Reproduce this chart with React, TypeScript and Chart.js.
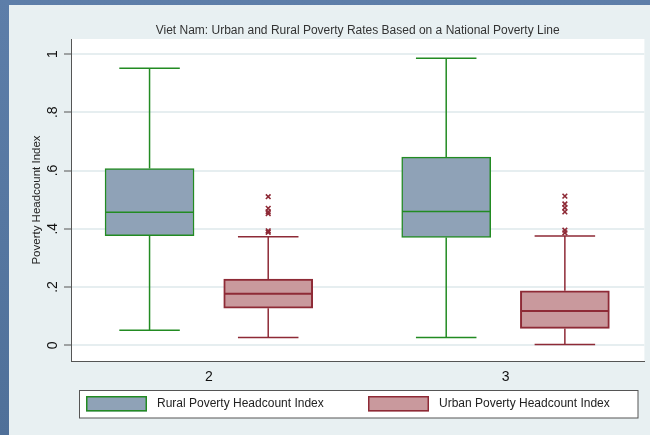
import React, { useEffect, useRef } from "react";
import { Chart, registerables } from "chart.js";

Chart.register(...registerables);

// ---------- data ----------
const chartTitle = "Viet Nam: Urban and Rural Poverty Rates Based on a National Poverty Line";
const yAxisTitle = "Poverty Headcount Index";
const groupLabels = ["2", "3"];
const groupPositions = [2, 3];
const seriesNames = ["Rural Poverty Headcount Index", "Urban Poverty Headcount Index"];

const ruralMin = [0.052, 0.027];
const ruralQ1 = [0.376, 0.37];
const ruralMedian = [0.457, 0.459];
const ruralQ3 = [0.607, 0.646];
const ruralMax = [0.951, 0.985];

const urbanMin = [0.027, 0.003];
const urbanQ1 = [0.127, 0.058];
const urbanMedian = [0.177, 0.118];
const urbanQ3 = [0.227, 0.187];
const urbanMax = [0.373, 0.375];

const urbanOutliersGroup2 = [0.388, 0.393, 0.452, 0.458, 0.47, 0.51];
const urbanOutliersGroup3 = [0.386, 0.395, 0.458, 0.472, 0.485, 0.512];

const yTickValues = [0, 0.2, 0.4, 0.6, 0.8, 1];
const yTickLabels = ["0", ".2", ".4", ".6", ".8", "1"];

// ---------- style ----------
const FONT = "'Liberation Sans', Arial, sans-serif";
const RURAL_FILL = "#8fa2b7";
const RURAL_LINE = "#228b22";
const URBAN_FILL = "#c9999d";
const URBAN_LINE = "#8e2a36";
const PANEL = "#e8f0f2";
const SERIES_OFFSET = 0.2;
const BOX_PX = 89;
const CAP_HALF = 0.102;
const MED_HALF = 0.149;

type Pt = { x: number; y: number | null };

function whiskerPoints(off: number, mins: number[], q1s: number[], q3s: number[], maxs: number[]): Pt[] {
  const pts: Pt[] = [];
  groupPositions.forEach((g, i) => {
    const x = g + off;
    pts.push(
      { x, y: q3s[i] }, { x, y: maxs[i] }, { x, y: null },
      { x: x - CAP_HALF, y: maxs[i] }, { x: x + CAP_HALF, y: maxs[i] }, { x, y: null },
      { x, y: q1s[i] }, { x, y: mins[i] }, { x, y: null },
      { x: x - CAP_HALF, y: mins[i] }, { x: x + CAP_HALF, y: mins[i] }, { x, y: null }
    );
  });
  return pts;
}

function medianPoints(off: number, meds: number[]): Pt[] {
  const pts: Pt[] = [];
  groupPositions.forEach((g, i) => {
    const x = g + off;
    pts.push({ x: x - MED_HALF, y: meds[i] }, { x: x + MED_HALF, y: meds[i] }, { x, y: null });
  });
  return pts;
}

const decorPlugin = {
  id: "statadecor",
  beforeDraw(chart: any) {
    const { ctx, chartArea } = chart;
    ctx.save();
    ctx.fillStyle = "#ffffff";
    ctx.fillRect(chartArea.left, chartArea.top, chartArea.right - chartArea.left, chartArea.bottom - chartArea.top);
    ctx.restore();
  },
  afterDraw(chart: any) {
    const { ctx } = chart;
    ctx.save();
    // legend frame
    const lx = 79.5, ly = 390.5, lw = 558.5, lh = 27.5;
    ctx.fillStyle = "#ffffff";
    ctx.fillRect(lx, ly, lw, lh);
    ctx.strokeStyle = "#555555";
    ctx.lineWidth = 1;
    ctx.strokeRect(lx, ly, lw, lh);
    const entries = chart.data.datasets.filter((d: any) => d.type === "bar");
    const itemX = [86, 368];
    entries.forEach((d: any, i: number) => {
      const sx = itemX[i];
      ctx.fillStyle = d.backgroundColor;
      ctx.fillRect(sx, 396, 61, 15.5);
      ctx.strokeStyle = d.borderColor;
      ctx.lineWidth = 1.5;
      ctx.strokeRect(sx + 0.75, 396.75, 59.5, 14);
      ctx.fillStyle = "#222222";
      ctx.font = `12px ${FONT}`;
      ctx.textAlign = "left";
      ctx.textBaseline = "middle";
      ctx.fillText(d.label, sx + 71, 404);
    });
    ctx.restore();
  },
};

export default function App() {
  const canvasRef = useRef<HTMLCanvasElement | null>(null);

  useEffect(() => {
    if (!canvasRef.current) return;
    const chart = new Chart(canvasRef.current, {
      type: "bar",
      data: {
        datasets: [
          {
            type: "bar",
            label: seriesNames[0],
            data: groupPositions.map((g, i) => ({ x: g - SERIES_OFFSET, y: [ruralQ1[i], ruralQ3[i]] })) as any,
            backgroundColor: RURAL_FILL,
            borderColor: RURAL_LINE,
            borderWidth: 1.5,
            borderSkipped: false,
            barThickness: BOX_PX,
            grouped: false,
            order: 3,
          } as any,
          {
            type: "bar",
            label: seriesNames[1],
            data: groupPositions.map((g, i) => ({ x: g + SERIES_OFFSET, y: [urbanQ1[i], urbanQ3[i]] })) as any,
            backgroundColor: URBAN_FILL,
            borderColor: URBAN_LINE,
            borderWidth: 2,
            borderSkipped: false,
            barThickness: BOX_PX,
            grouped: false,
            order: 3,
          } as any,
          {
            type: "line",
            label: "rural whiskers",
            data: whiskerPoints(-SERIES_OFFSET, ruralMin, ruralQ1, ruralQ3, ruralMax) as any,
            borderColor: RURAL_LINE,
            borderWidth: 1.5,
            pointRadius: 0,
            spanGaps: false,
            fill: false,
            order: 2,
          },
          {
            type: "line",
            label: "urban whiskers",
            data: whiskerPoints(SERIES_OFFSET, urbanMin, urbanQ1, urbanQ3, urbanMax) as any,
            borderColor: URBAN_LINE,
            borderWidth: 1.5,
            pointRadius: 0,
            spanGaps: false,
            fill: false,
            order: 2,
          },
          {
            type: "line",
            label: "rural median",
            data: medianPoints(-SERIES_OFFSET, ruralMedian) as any,
            borderColor: RURAL_LINE,
            borderWidth: 1.5,
            pointRadius: 0,
            spanGaps: false,
            fill: false,
            order: 1,
          },
          {
            type: "line",
            label: "urban median",
            data: medianPoints(SERIES_OFFSET, urbanMedian) as any,
            borderColor: URBAN_LINE,
            borderWidth: 2,
            pointRadius: 0,
            spanGaps: false,
            fill: false,
            order: 1,
          },
          {
            type: "scatter",
            label: "urban outliers",
            data: [
              ...urbanOutliersGroup2.map((v) => ({ x: groupPositions[0] + SERIES_OFFSET, y: v })),
              ...urbanOutliersGroup3.map((v) => ({ x: groupPositions[1] + SERIES_OFFSET, y: v })),
            ],
            pointStyle: "crossRot",
            pointRadius: 3.3,
            borderColor: URBAN_LINE,
            backgroundColor: URBAN_LINE,
            borderWidth: 1.6,
            order: 0,
          },
        ],
      },
      options: {
        responsive: false,
        animation: false,
        devicePixelRatio: 1,
        layout: { padding: { left: 30, right: 3, top: 0, bottom: 44 } },
        plugins: {
          legend: { display: false },
          tooltip: { enabled: false },
          title: {
            display: true,
            text: chartTitle,
            fullSize: false,
            color: "#333333",
            font: { family: FONT, size: 12, weight: "normal" },
            padding: { top: 23, bottom: 1.6 },
          },
        },
        scales: {
          x: {
            type: "linear",
            min: 1.5352,
            max: 3.4681,
            offset: false,
            grid: { display: false, offset: false },
            border: { display: true, color: "#555555", width: 1 },
            afterBuildTicks: (scale: any) => {
              scale.ticks = groupPositions.map((v) => ({ value: v }));
            },
            afterFit: (scale: any) => {
              scale.height = 30;
            },
            ticks: {
              padding: 0,
              color: "#111111",
              font: { family: FONT, size: 14 },
              maxRotation: 0,
              minRotation: 0,
              callback: (v: any) => {
                const i = groupPositions.indexOf(Number(v));
                return i >= 0 ? groupLabels[i] : "";
              },
            },
          },
          y: {
            type: "linear",
            min: -0.054,
            max: 1.0515,
            grid: {
              color: "#e6eef0",
              lineWidth: 2,
              tickColor: "#555555",
              tickWidth: 1,
              tickLength: 7,
              drawTicks: true,
            },
            border: { display: true, color: "#555555", width: 1 },
            afterBuildTicks: (scale: any) => {
              scale.ticks = yTickValues.map((v) => ({ value: v }));
            },
            afterFit: (scale: any) => {
              scale.width = 41;
            },
            title: {
              display: true,
              text: yAxisTitle,
              color: "#222222",
              font: { family: FONT, size: 11.5 },
              padding: { top: 0, bottom: 0 },
            },
            ticks: {
              padding: 5,
              crossAlign: "center",
              minRotation: 90,
              maxRotation: 90,
              color: "#111111",
              font: { family: FONT, size: 14 },
              callback: (v: any) => {
                const i = yTickValues.findIndex((t) => Math.abs(t - Number(v)) < 1e-9);
                return i >= 0 ? yTickLabels[i] : "";
              },
            },
          },
        },
      },
      plugins: [decorPlugin],
    });
    return () => chart.destroy();
  }, []);

  return (
    <div
      style={{
        position: "fixed",
        left: 0,
        top: 0,
        width: 650,
        height: 435,
        background: "linear-gradient(180deg, #5d7ea9 0%, #4f7099 100%)",
        overflow: "hidden",
      }}
    >
      <div style={{ position: "absolute", left: 9, top: 5, width: 641, height: 430, background: PANEL }} />
      <canvas
        ref={canvasRef}
        width={650}
        height={435}
        style={{ position: "absolute", left: 0, top: 0, width: 650, height: 435, display: "block" }}
      />
    </div>
  );
}
